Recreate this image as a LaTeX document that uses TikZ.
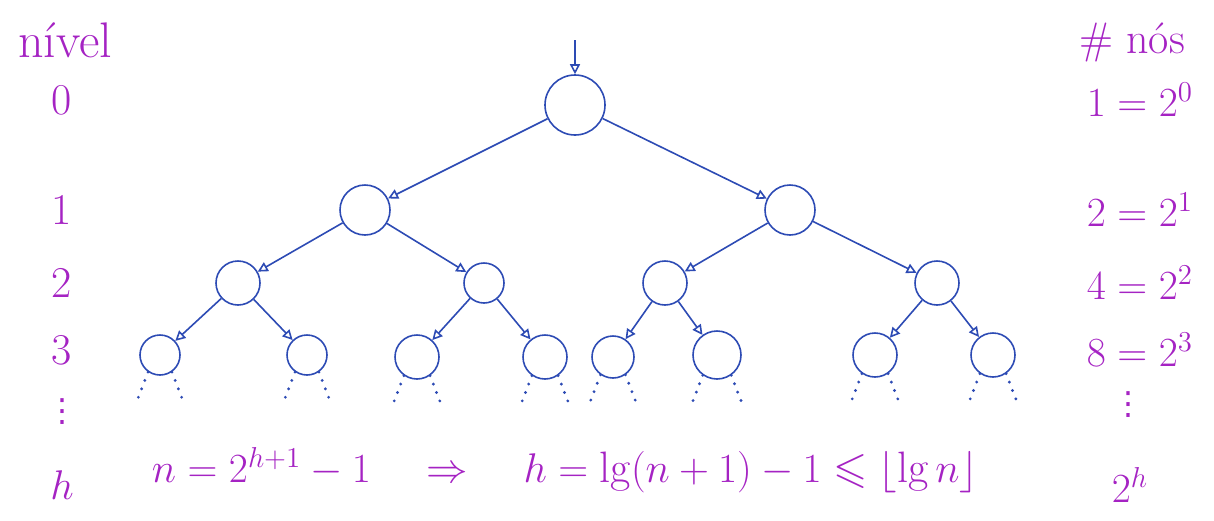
\documentclass[tikz,border=0pt]{standalone}
\usepackage{amsmath}
\usepackage{amssymb}
\usepackage{fontspec}
\usetikzlibrary{arrows.meta, positioning}
\newfontfamily\symfont{DejaVu Sans}
\definecolor{ink}{RGB}{45,75,180}
\definecolor{pen}{RGB}{165,35,195}

\begin{document}
\begin{tikzpicture}[
    x=0.5pt, y=-0.5pt,
    nd/.style={draw=ink, circle, line width=0.8pt, minimum size=22pt, inner sep=0pt},
    arrow/.style={-{Triangle[open, length=5pt, width=5pt]}, line width=0.8pt, ink},
    stub/.style={ink, line width=1.6pt, line cap=round, dash pattern=on 0pt off 4.5pt},
    lbl/.style={text=pen, inner sep=1pt, font=\fontsize{22}{26}\selectfont},
    vdots/.style={text=pen, inner sep=0pt, font=\symfont\fontsize{16}{18}\selectfont},
]
    \useasboundingbox (0,0) rectangle (1214,520);

    % tree
    \node[nd, minimum size=30pt] (root) at (575,105) {};
    \node[nd, minimum size=25pt] (a) at (365,210) {};
    \node[nd, minimum size=25pt] (b) at (790,210) {};
    \node[nd] (aa) at (238,283) {};
    \node[nd, minimum size=20pt] (ab) at (484,283) {};
    \node[nd] (ba) at (665,283) {};
    \node[nd] (bb) at (937,283) {};
    \node[nd, minimum size=20pt] (aaa) at (160,355) {};
    \node[nd, minimum size=20pt] (aab) at (307,355) {};
    \node[nd] (aba) at (417,357) {};
    \node[nd] (abb) at (545,357) {};
    \node[nd, minimum size=21pt] (baa) at (613,357) {};
    \node[nd, minimum size=24pt] (bab) at (717,355) {};
    \node[nd] (bba) at (875,355) {};
    \node[nd] (bbb) at (993,355) {};

    \coordinate (entry) at (575,40);
    \draw[arrow] (entry) -- (root);

    \draw[arrow] (root) -- (a);
    \draw[arrow] (root) -- (b);
    \draw[arrow] (a) -- (aa);
    \draw[arrow] (a) -- (ab);
    \draw[arrow] (b) -- (ba);
    \draw[arrow] (b) -- (bb);
    \draw[arrow] (aa) -- (aaa);
    \draw[arrow] (aa) -- (aab);
    \draw[arrow] (ab) -- (aba);
    \draw[arrow] (ab) -- (abb);
    \draw[arrow] (ba) -- (baa);
    \draw[arrow] (ba) -- (bab);
    \draw[arrow] (bb) -- (bba);
    \draw[arrow] (bb) -- (bbb);

    % what continues below level 3
    \foreach \leaf in {aaa,aab,aba,abb,baa,bab,bba,bbb} {
        \draw[stub] (\leaf.235) -- ++(-10,26);
        \draw[stub] (\leaf.305) -- ++(10,26);
    }

    % levels
    \node[lbl, font=\fontsize{25}{28}\selectfont] (nivel) at (65,40) {nível};
    \node[lbl] (lv0) at (62,100) {0};
    \node[lbl] (lv1) at (62,210) {1};
    \node[lbl] (lv2) at (62,283) {2};
    \node[lbl] (lv3) at (62,350) {3};
    \node[vdots] (lvd) at (62,412) {⋮};
    \node[lbl] (lvh) at (62,485) {$h$};

    % node counts
    \node[lbl] (nos) at (1132,42) {\# nós};
    \node[lbl] (c0) at (1140,100) {$1 = 2^0$};
    \node[lbl] (c1) at (1140,210) {$2 = 2^1$};
    \node[lbl] (c2) at (1140,283) {$4 = 2^2$};
    \node[lbl] (c3) at (1140,350) {$8 = 2^3$};
    \node[vdots] (cd) at (1128,405) {⋮};
    \node[lbl] (ch) at (1130,485) {$2^h$};

    % height
    \node[lbl] (eq) at (565,470)
        {$n = 2^{h+1} - 1 \quad\Rightarrow\quad h = \lg(n+1) - 1 \leqslant \lfloor \lg n \rfloor$};
\end{tikzpicture}
\end{document}
